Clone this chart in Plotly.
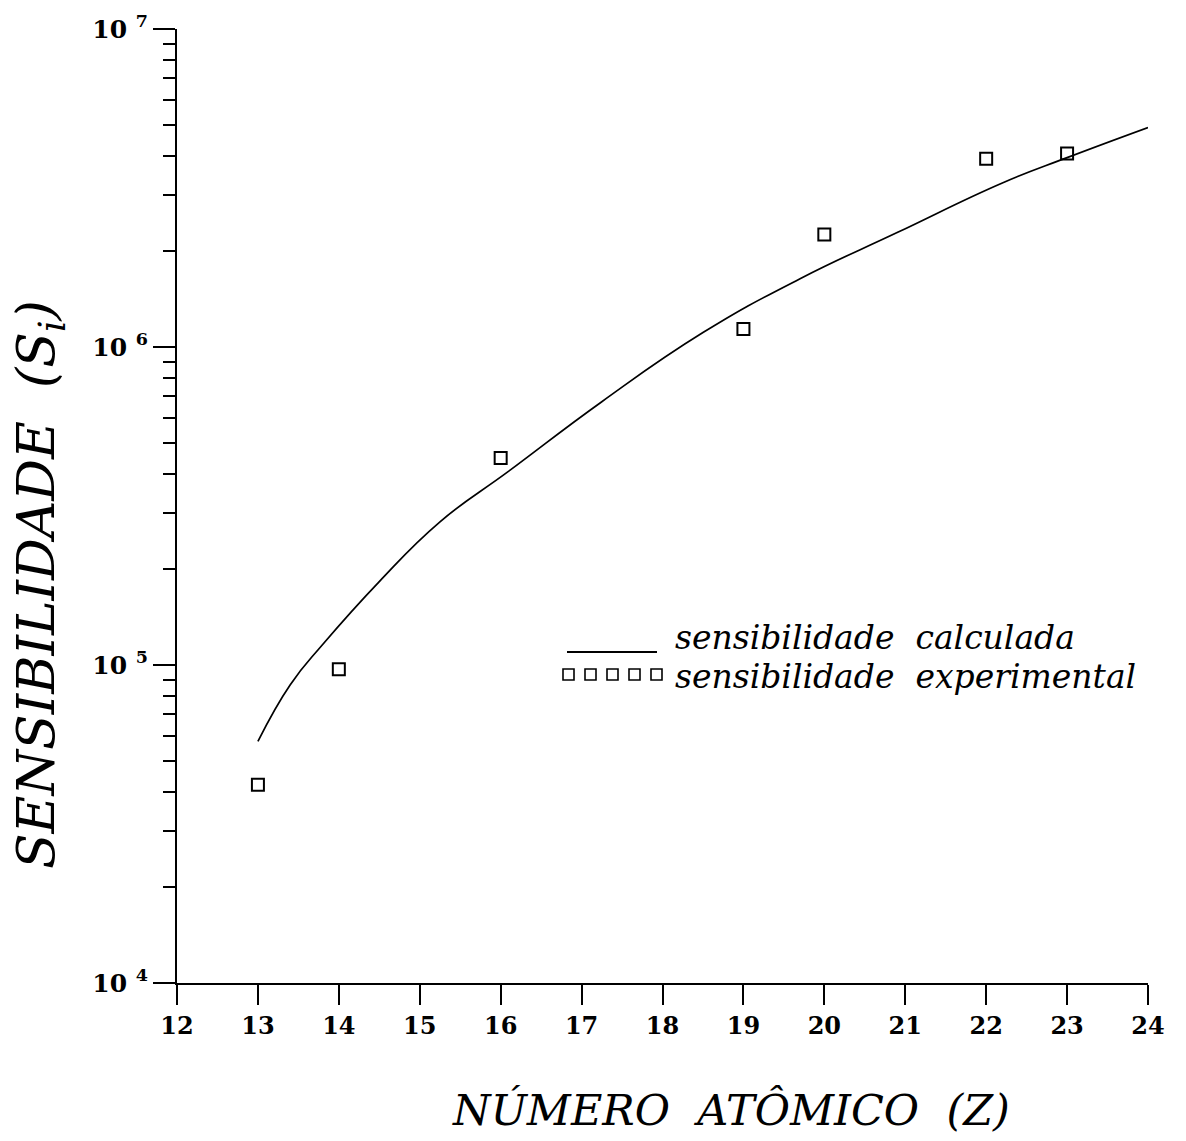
import plotly.graph_objects as go

# ---- data ----
z_calc = [13, 13.4, 13.8, 14.5, 15.25, 16.1, 17.25, 18.5, 19.7, 20.9, 22.2, 23, 24]
s_calc = [5.75e4, 8.67e4, 1.16e5, 1.83e5, 2.82e5, 4.07e5, 6.73e5, 1.11e6, 1.64e6,
          2.29e6, 3.28e6, 3.94e6, 4.9e6]

z_exp = [13, 14, 16, 19, 20, 22, 23]
s_exp = [4.2e4, 9.7e4, 4.48e5, 1.14e6, 2.26e6, 3.91e6, 4.06e6]

x_ticks = list(range(12, 25))
y_major = [1e4, 1e5, 1e6, 1e7]
y_major_text = ["10 <sup>4</sup>", "10 <sup>5</sup>", "10 <sup>6</sup>", "10 <sup>7</sup>"]
y_minor = [m * d for d in (1e4, 1e5, 1e6) for m in range(2, 10)]

legend_labels = ["sensibilidade  calculada", "sensibilidade  experimental"]
x_title = "NÚMERO  ATÔMICO  (Z)"
y_title = "SENSIBILIDADE  (S<sub>i</sub>)"

W, H = 1186, 1141
L, R, T, B = 177, 38, 29, 158
PW, PH = W - L - R, H - T - B


def px(x):
    return (x - L) / PW


def py(y):
    return (H - B - y) / PH


SERIF = "DejaVu Serif"

fig = go.Figure()
fig.add_trace(go.Scatter(x=z_calc, y=s_calc, mode="lines",
                         line=dict(color="black", width=1.7, shape="spline", smoothing=1.3),
                         showlegend=False))
fig.add_trace(go.Scatter(x=z_exp, y=s_exp, mode="markers",
                         marker=dict(symbol="square-open", size=12, color="black",
                                     line=dict(width=2, color="black")),
                         showlegend=False))

# legend (drawn manually to mimic the original)
shapes = [dict(type="line", xref="paper", yref="paper",
               x0=px(567), x1=px(657), y0=py(652), y1=py(652),
               line=dict(color="black", width=2.2))]
for i in range(5):
    x0 = 563 + i * 22
    shapes.append(dict(type="rect", xref="paper", yref="paper",
                       x0=px(x0), x1=px(x0 + 11), y0=py(669), y1=py(680),
                       line=dict(color="black", width=1.6)))

annotations = [
    dict(text=legend_labels[0], x=px(673), y=py(637), xref="paper", yref="paper",
         xanchor="left", yanchor="middle", showarrow=False,
         font=dict(family=SERIF, size=33, color="black", style="italic")),
    dict(text=legend_labels[1], x=px(673), y=py(676), xref="paper", yref="paper",
         xanchor="left", yanchor="middle", showarrow=False,
         font=dict(family=SERIF, size=33, color="black", style="italic")),
    dict(text=x_title, x=px(731), y=py(1110), xref="paper", yref="paper",
         xanchor="center", yanchor="middle", showarrow=False,
         font=dict(family=SERIF, size=43, color="black", style="italic")),
    dict(text=y_title, x=px(40), y=py(585), xref="paper", yref="paper",
         xanchor="center", yanchor="middle", showarrow=False, textangle=-90,
         font=dict(family=SERIF, size=52, color="black", style="italic")),
]

fig.update_layout(
    width=W, height=H,
    margin=dict(l=L, r=R, t=T, b=B, pad=0),
    paper_bgcolor="white", plot_bgcolor="white",
    shapes=shapes, annotations=annotations,
    xaxis=dict(range=[12, 24], tickvals=x_ticks, ticks="outside", ticklen=20,
               tickwidth=2, tickcolor="black", showline=True, linewidth=2,
               linecolor="black", showgrid=False, zeroline=False, mirror=False,
               tickfont=dict(family=SERIF, size=24, color="black", weight="bold")),
    yaxis=dict(type="log", range=[4, 7], tickvals=y_major, ticktext=y_major_text,
               ticks="outside", ticklen=22, tickwidth=2, tickcolor="black",
               showline=True, linewidth=2, linecolor="black", showgrid=False,
               zeroline=False, mirror=False,
               tickfont=dict(family=SERIF, size=25, color="black", weight="bold"),
               minor=dict(tickvals=y_minor, ticks="outside", ticklen=12,
                          tickwidth=2, tickcolor="black", showgrid=False)),
)

fig.write_html("out.html")
